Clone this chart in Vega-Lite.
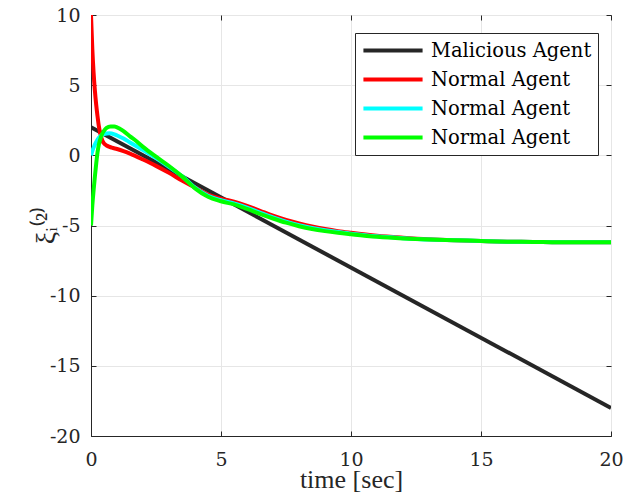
{
  "$schema": "https://vega.github.io/schema/vega-lite/v6.json",
  "autosize": {"type": "none"},
  "padding": {"left": 91, "top": 15, "right": 12, "bottom": 56},
  "width": 520,
  "height": 421,
  "background": "white",
  "config": {
    "font": "Liberation Serif",
    "view": {"stroke": "#262626", "strokeWidth": 1},
    "axis": {
      "labelFont": "DejaVu Serif",
      "titleFont": "Liberation Serif",
      "labelFontSize": 19,
      "titleFontSize": 26,
      "labelColor": "#262626",
      "titleColor": "#262626",
      "titleFontWeight": "normal",
      "domainColor": "#262626",
      "tickColor": "#262626",
      "gridColor": "#e6e6e6",
      "gridWidth": 1,
      "labelFlush": false,
      "labelOverlap": false
    }
  },
  "data": {
    "values": [
      {"t": 0, "v": 2, "s": "a"},
      {"t": 20, "v": -18, "s": "a"},

      {"t": 0, "v": 10, "s": "b"},
      {"t": 0.05, "v": 7.6, "s": "b"},
      {"t": 0.1, "v": 5.9, "s": "b"},
      {"t": 0.15, "v": 4.6, "s": "b"},
      {"t": 0.2, "v": 3.6, "s": "b"},
      {"t": 0.25, "v": 2.8, "s": "b"},
      {"t": 0.3, "v": 2.1, "s": "b"},
      {"t": 0.35, "v": 1.6, "s": "b"},
      {"t": 0.4, "v": 1.25, "s": "b"},
      {"t": 0.45, "v": 1.0, "s": "b"},
      {"t": 0.5, "v": 0.85, "s": "b"},
      {"t": 0.6, "v": 0.7, "s": "b"},
      {"t": 0.8, "v": 0.55, "s": "b"},
      {"t": 1.0, "v": 0.45, "s": "b"},
      {"t": 1.25, "v": 0.3, "s": "b"},
      {"t": 1.5, "v": 0.12, "s": "b"},
      {"t": 2.0, "v": -0.3, "s": "b"},
      {"t": 2.5, "v": -0.75, "s": "b"},
      {"t": 3.0, "v": -1.25, "s": "b"},
      {"t": 3.5, "v": -1.8, "s": "b"},
      {"t": 4.0, "v": -2.3, "s": "b"},
      {"t": 4.5, "v": -2.8, "s": "b"},
      {"t": 5.0, "v": -3.08, "s": "b"},
      {"t": 5.5, "v": -3.3, "s": "b"},
      {"t": 6.0, "v": -3.6, "s": "b"},
      {"t": 6.5, "v": -3.95, "s": "b"},
      {"t": 7.0, "v": -4.3, "s": "b"},
      {"t": 7.5, "v": -4.6, "s": "b"},
      {"t": 8.0, "v": -4.85, "s": "b"},
      {"t": 8.5, "v": -5.07, "s": "b"},
      {"t": 9.0, "v": -5.25, "s": "b"},
      {"t": 9.5, "v": -5.4, "s": "b"},
      {"t": 10, "v": -5.52, "s": "b"},
      {"t": 11, "v": -5.73, "s": "b"},
      {"t": 12, "v": -5.87, "s": "b"},
      {"t": 13, "v": -5.98, "s": "b"},
      {"t": 14, "v": -6.05, "s": "b"},
      {"t": 15, "v": -6.1, "s": "b"},
      {"t": 16, "v": -6.15, "s": "b"},
      {"t": 17, "v": -6.17, "s": "b"},
      {"t": 18, "v": -6.2, "s": "b"},
      {"t": 20, "v": -6.2, "s": "b"},

      {"t": 0, "v": 0, "s": "c"},
      {"t": 0.05, "v": 0.3, "s": "c"},
      {"t": 0.1, "v": 0.55, "s": "c"},
      {"t": 0.2, "v": 0.95, "s": "c"},
      {"t": 0.3, "v": 1.25, "s": "c"},
      {"t": 0.4, "v": 1.42, "s": "c"},
      {"t": 0.5, "v": 1.52, "s": "c"},
      {"t": 0.7, "v": 1.57, "s": "c"},
      {"t": 0.9, "v": 1.5, "s": "c"},
      {"t": 1.0, "v": 1.42, "s": "c"},
      {"t": 1.25, "v": 1.2, "s": "c"},
      {"t": 1.5, "v": 0.92, "s": "c"},
      {"t": 1.75, "v": 0.65, "s": "c"},
      {"t": 2.0, "v": 0.38, "s": "c"},
      {"t": 2.5, "v": -0.2, "s": "c"},
      {"t": 3.0, "v": -0.82, "s": "c"},
      {"t": 3.5, "v": -1.48, "s": "c"},
      {"t": 4.0, "v": -2.3, "s": "c"},
      {"t": 4.5, "v": -2.88, "s": "c"},
      {"t": 5.0, "v": -3.2, "s": "c"},
      {"t": 5.5, "v": -3.43, "s": "c"},
      {"t": 6.0, "v": -3.73, "s": "c"},
      {"t": 6.5, "v": -4.08, "s": "c"},
      {"t": 7.0, "v": -4.42, "s": "c"},
      {"t": 7.5, "v": -4.72, "s": "c"},
      {"t": 8.0, "v": -4.97, "s": "c"},
      {"t": 8.5, "v": -5.18, "s": "c"},
      {"t": 9.0, "v": -5.34, "s": "c"},
      {"t": 9.5, "v": -5.47, "s": "c"},
      {"t": 10, "v": -5.58, "s": "c"},
      {"t": 11, "v": -5.77, "s": "c"},
      {"t": 12, "v": -5.9, "s": "c"},
      {"t": 13, "v": -6.0, "s": "c"},
      {"t": 14, "v": -6.05, "s": "c"},
      {"t": 15, "v": -6.1, "s": "c"},
      {"t": 16, "v": -6.15, "s": "c"},
      {"t": 17, "v": -6.17, "s": "c"},
      {"t": 18, "v": -6.2, "s": "c"},
      {"t": 20, "v": -6.2, "s": "c"},

      {"t": 0, "v": -5, "s": "d"},
      {"t": 0.05, "v": -3.6, "s": "d"},
      {"t": 0.1, "v": -2.5, "s": "d"},
      {"t": 0.15, "v": -1.5, "s": "d"},
      {"t": 0.2, "v": -0.6, "s": "d"},
      {"t": 0.25, "v": 0.2, "s": "d"},
      {"t": 0.3, "v": 0.75, "s": "d"},
      {"t": 0.35, "v": 1.1, "s": "d"},
      {"t": 0.4, "v": 1.4, "s": "d"},
      {"t": 0.5, "v": 1.75, "s": "d"},
      {"t": 0.6, "v": 1.95, "s": "d"},
      {"t": 0.75, "v": 2.05, "s": "d"},
      {"t": 0.9, "v": 2.05, "s": "d"},
      {"t": 1.0, "v": 2.0, "s": "d"},
      {"t": 1.25, "v": 1.72, "s": "d"},
      {"t": 1.5, "v": 1.35, "s": "d"},
      {"t": 1.75, "v": 1.0, "s": "d"},
      {"t": 2.0, "v": 0.6, "s": "d"},
      {"t": 2.5, "v": -0.1, "s": "d"},
      {"t": 3.0, "v": -0.76, "s": "d"},
      {"t": 3.5, "v": -1.5, "s": "d"},
      {"t": 4.0, "v": -2.35, "s": "d"},
      {"t": 4.5, "v": -2.95, "s": "d"},
      {"t": 5.0, "v": -3.27, "s": "d"},
      {"t": 5.5, "v": -3.5, "s": "d"},
      {"t": 6.0, "v": -3.82, "s": "d"},
      {"t": 6.5, "v": -4.17, "s": "d"},
      {"t": 7.0, "v": -4.5, "s": "d"},
      {"t": 7.5, "v": -4.8, "s": "d"},
      {"t": 8.0, "v": -5.05, "s": "d"},
      {"t": 8.5, "v": -5.25, "s": "d"},
      {"t": 9.0, "v": -5.4, "s": "d"},
      {"t": 9.5, "v": -5.52, "s": "d"},
      {"t": 10, "v": -5.62, "s": "d"},
      {"t": 11, "v": -5.8, "s": "d"},
      {"t": 12, "v": -5.92, "s": "d"},
      {"t": 13, "v": -6.0, "s": "d"},
      {"t": 14, "v": -6.05, "s": "d"},
      {"t": 15, "v": -6.1, "s": "d"},
      {"t": 16, "v": -6.15, "s": "d"},
      {"t": 17, "v": -6.17, "s": "d"},
      {"t": 18, "v": -6.2, "s": "d"},
      {"t": 20, "v": -6.2, "s": "d"}
    ]
  },
  "resolve": {"axis": {"x": "independent", "y": "independent"}},
  "layer": [
    {
      "mark": {"type": "line", "strokeWidth": 4, "interpolate": "monotone", "clip": true},
      "encoding": {
        "x": {
          "field": "t", "type": "quantitative",
          "scale": {"domain": [0, 20], "nice": false, "zero": false},
          "axis": {"values": [0, 5, 10, 15, 20], "title": "time [sec]", "tickSize": -5, "labelPadding": 19, "titlePadding": -3, "grid": true, "orient": "bottom"}
        },
        "y": {
          "field": "v", "type": "quantitative",
          "scale": {"domain": [-20, 10], "nice": false, "zero": false},
          "axis": {"values": [-20, -15, -10, -5, 0, 5, 10], "labelExpr": "replace(datum.label, '−', '-')", "title": "ξᵢ⁽²⁾", "tickSize": -5, "labelPadding": 16, "grid": true, "orient": "left", "titleX": -45, "titleY": 210, "titleAngle": -90, "titleBaseline": "middle", "titleAlign": "center", "titleFontSize": 28}
        },
        "color": {
          "field": "s", "type": "nominal",
          "scale": {"domain": ["a", "b", "c", "d"], "range": ["#262626", "#ff0000", "#00ffff", "#00ff00"]},
          "legend": {
            "title": null,
            "orient": "none",
            "legendX": 264,
            "legendY": 18,
            "symbolType": "stroke",
            "symbolSize": 3500,
            "symbolStrokeWidth": 4,
            "clipHeight": 23,
            "rowPadding": 6,
            "labelOffset": 6,
            "labelFontSize": 19.5,
            "labelFont": "DejaVu Serif",
            "labelColor": "#000000",
            "labelLimit": 400,
            "padding": 6,
            "strokeColor": "#262626",
            "fillColor": "white",
            "labelExpr": "datum.value == 'a' ? 'Malicious Agent' : 'Normal Agent'"
          }
        }
      }
    },
    {
      "mark": {"type": "line", "opacity": 0},
      "encoding": {
        "x": {
          "field": "t", "type": "quantitative",
          "axis": {"orient": "top", "values": [0, 5, 10, 15, 20], "labels": false, "title": null, "tickSize": -5, "grid": false, "domain": false}
        },
        "y": {
          "field": "v", "type": "quantitative",
          "axis": {"orient": "right", "values": [-20, -15, -10, -5, 0, 5, 10], "labels": false, "title": null, "tickSize": -5, "grid": false, "domain": false}
        },
        "detail": {"field": "s"}
      }
    }
  ]
}
